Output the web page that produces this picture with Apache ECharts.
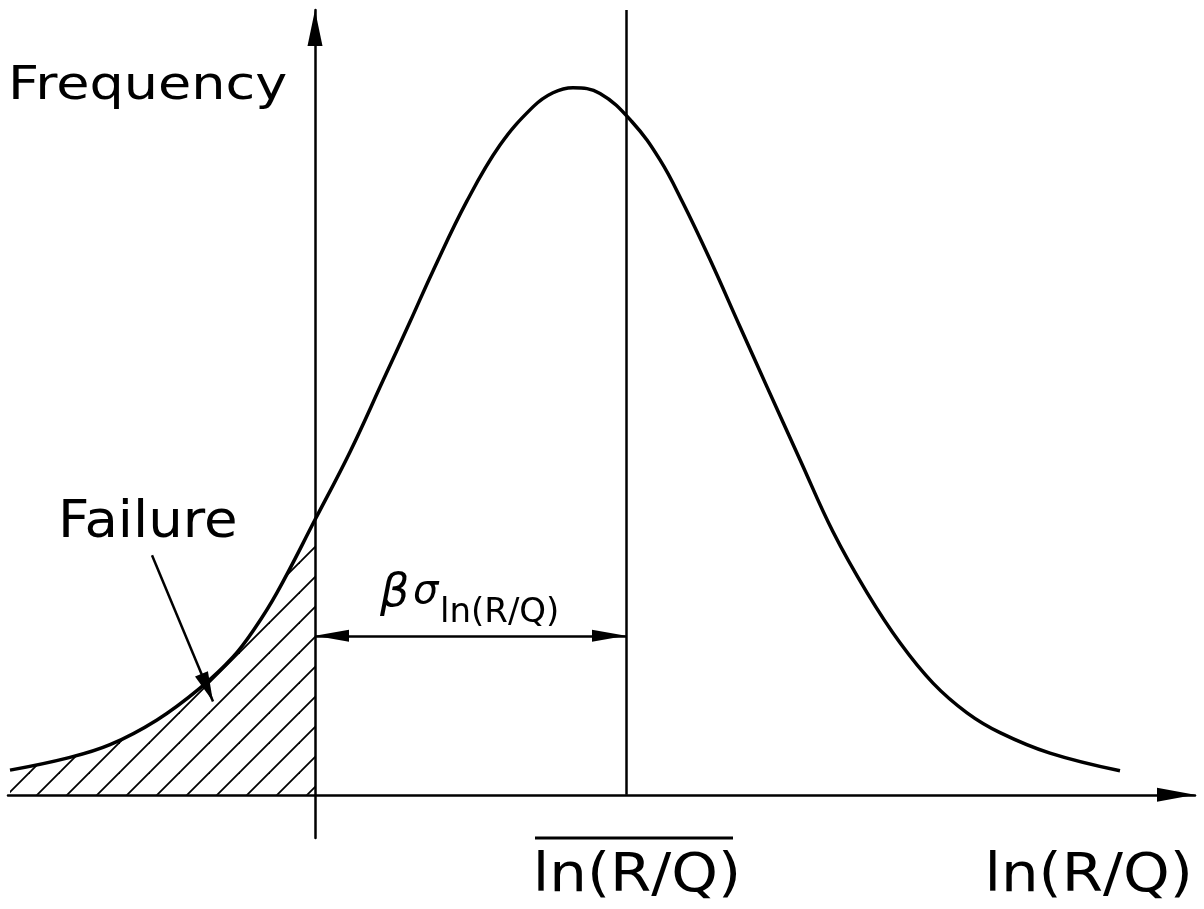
<!DOCTYPE html>
<html>
<head>
<meta charset="utf-8">
<title>Failure probability</title>
<script src="https://cdn.jsdelivr.net/npm/echarts@6/dist/echarts.min.js"></script>
<style>
  html, body { margin: 0; padding: 0; background: #fff; }
  #chart { width: 1204px; height: 909px; }
</style>
</head>
<body>
<div id="chart"></div>
<script>
// curve: x in ln(R/Q) units (0 = failure limit), y = relative frequency
const curveX = [-3.05, -2.48, -2.05, -1.58, -1.15, -0.82, -0.60, -0.38, 0, 0.35, 0.68, 0.95, 1.18, 1.52, 1.85, 2.18, 2.38,
  2.58, 2.85, 3.17, 3.45, 3.68, 3.95, 4.25, 4.52, 4.85, 5.18, 5.52, 5.85, 6.18, 6.52, 6.85, 7.35, 8.05];
const curveY = [0.035, 0.052, 0.071, 0.106, 0.151, 0.195, 0.236, 0.286, 0.389, 0.485, 0.586, 0.669, 0.741, 0.840, 0.919, 0.973, 0.993,
  1.000, 0.992, 0.952, 0.898, 0.837, 0.757, 0.662, 0.577, 0.474, 0.372, 0.286, 0.215, 0.158, 0.116, 0.088, 0.059, 0.034];

const failureLimit = 0;     // vertical axis, left of it is failure
const meanX = 3.11;         // mean of ln(R/Q)
const betaArrowY = 0.225;   // height of the beta*sigma dimension arrow
const failurePointer = [[-1.63, 0.339], [-1.02, 0.132]];

const xMin = -3.07, xMax = 8.8;
const yMin = -0.061, yMax = 1.11;

const FONT = "'DejaVu Sans', sans-serif";

const curveData = curveX.map((x, i) => [x, curveY[i]]);
const hatchData = curveData.filter(d => d[0] <= failureLimit);

// diagonal hatching tile
function hatchPattern() {
  const c = document.createElement("canvas");
  c.width = 30;
  c.height = 30;
  const ctx = c.getContext("2d");
  ctx.strokeStyle = "#000";
  ctx.lineWidth = 1.8;
  [-8, 22, 52].forEach(k => {
    ctx.beginPath();
    ctx.moveTo(-10, k + 10);
    ctx.lineTo(40, k - 40);
    ctx.stroke();
  });
  return c;
}

const chart = echarts.init(document.getElementById("chart"));

const option = {
  animation: false,
  backgroundColor: "#fff",
  grid: { left: 8, right: 9, top: 10, bottom: 71 },
  xAxis: {
    type: "value",
    min: xMin,
    max: xMax,
    axisLine: {
      onZero: true,
      symbol: ["none", "triangle"],
      symbolSize: [14, 38],
      symbolOffset: [0, -19],
      lineStyle: { color: "#000", width: 2.5 }
    },
    axisTick: { show: false },
    axisLabel: { show: false },
    splitLine: { show: false }
  },
  yAxis: {
    type: "value",
    min: yMin,
    max: yMax,
    axisLine: {
      onZero: true,
      symbol: ["none", "triangle"],
      symbolSize: [15, 36],
      symbolOffset: [0, -18],
      lineStyle: { color: "#000", width: 2.5 }
    },
    axisTick: { show: false },
    axisLabel: { show: false },
    splitLine: { show: false }
  },
  series: [
    {
      name: "failure",
      type: "line",
      data: hatchData,
      smooth: 0.4,
      symbol: "none",
      silent: true,
      lineStyle: { width: 0 },
      areaStyle: { color: { image: hatchPattern(), repeat: "repeat" }, opacity: 1 }
    },
    {
      name: "frequency",
      type: "line",
      data: curveData,
      smooth: 0.4,
      symbol: "none",
      clip: false,
      silent: true,
      lineStyle: { color: "#000", width: 3.5 },
      markLine: {
        silent: true,
        animation: false,
        label: { show: false },
        lineStyle: { color: "#000", width: 2.5, type: "solid" },
        data: [
          [
            { coord: [meanX, 0], symbol: "none" },
            { coord: [meanX, yMax], symbol: "none" }
          ],
          [
            { coord: [failureLimit, betaArrowY], symbol: "triangle", symbolSize: [12, 34], symbolOffset: [0, 17] },
            { coord: [meanX, betaArrowY], symbol: "triangle", symbolSize: [12, 34], symbolOffset: [0, 17] }
          ],
          [
            { coord: failurePointer[0], symbol: "none" },
            { coord: failurePointer[1], symbol: "triangle", symbolSize: [14, 30], symbolOffset: [0, 15] }
          ]
        ]
      }
    }
  ]
};

chart.setOption(option);

// text annotations, placed from the axis scale
const x0 = chart.convertToPixel({ xAxisIndex: 0 }, failureLimit);
const xm = chart.convertToPixel({ xAxisIndex: 0 }, meanX);

function label(text, x, y, size, stretch, extra) {
  return {
    type: "text",
    x: x,
    y: y,
    scaleX: stretch,
    silent: true,
    style: Object.assign({
      text: text,
      fontFamily: FONT,
      fontSize: size,
      fill: "#000",
      align: "left",
      verticalAlign: "middle"
    }, extra || {})
  };
}

chart.setOption({
  graphic: [
    label("Frequency", 8, 87, 47, 1.15),
    label("Failure", 58, 523, 52, 1.05),
    label("β", x0 + 65, 594, 46, 1, { fontStyle: "italic" }),
    label("σ", x0 + 98, 593, 40, 1, { fontStyle: "italic" }),
    label("ln(R/Q)", x0 + 125, 613, 34, 1),
    label("ln(R/Q)", xm + 11, 877, 54, 1.1, { align: "center" }),
    {
      type: "line",
      silent: true,
      shape: { x1: xm - 91, y1: 838, x2: xm + 107, y2: 838 },
      style: { stroke: "#000", lineWidth: 3 }
    },
    label("ln(R/Q)", 1193, 877, 54, 1.1, { align: "right" })
  ]
});
</script>
</body>
</html>
